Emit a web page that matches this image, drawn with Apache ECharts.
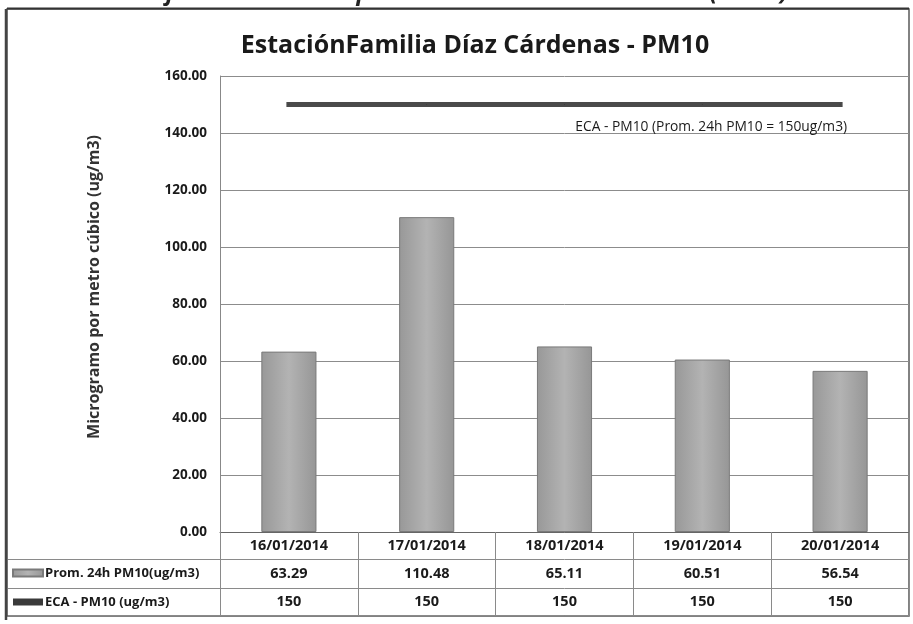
<!DOCTYPE html>
<html>
<head>
<meta charset="utf-8">
<title>PM10</title>
<script src="https://cdn.jsdelivr.net/npm/echarts@6/dist/echarts.min.js"></script>
<style>
  html, body { margin: 0; padding: 0; background: #fff; }
  #chart { width: 913px; height: 624px; }
</style>
</head>
<body>
<div id="chart"></div>
<script>
  // datos
  const fechas = ['16/01/2014', '17/01/2014', '18/01/2014', '19/01/2014', '20/01/2014'];
  const promPM10 = [63.29, 110.48, 65.11, 60.51, 56.54];
  const ecaPM10 = [150, 150, 150, 150, 150];
  const yTicks = [0, 20, 40, 60, 80, 100, 120, 140, 160];

  const nombreBarra = 'Prom. 24h PM10(ug/m3)';
  const nombreLinea = 'ECA - PM10 (ug/m3)';
  const font = "'Open Sans', 'Noto Sans', sans-serif";

  const chart = echarts.init(document.getElementById('chart'));

  // lineas horizontales de la tabla de datos (ejes vacios con offset)
  const filaEje = (off) => ({
    type: 'category',
    data: fechas,
    position: 'bottom',
    offset: off,
    axisLine: { show: true, lineStyle: { color: '#8a8a8a', width: 1 } },
    axisTick: { show: false },
    axisLabel: { show: false },
    splitLine: { show: false }
  });

  const option = {
    backgroundColor: '#fff',
    animation: false,
    title: {
      text: 'EstaciónFamilia Díaz Cárdenas - PM10',
      left: 470,
      textAlign: 'center',
      top: 28,
      textStyle: { fontFamily: font, fontWeight: 'bold', fontSize: 25, color: '#1a1a1a' }
    },
    legend: {
      orient: 'vertical',
      left: 12,
      top: 565,
      padding: 0,
      itemGap: 13,
      itemWidth: 30,
      itemHeight: 7,
      selectedMode: false,
      textStyle: { fontFamily: font, fontWeight: 'bold', fontSize: 13, color: '#1a1a1a', lineHeight: 16, padding: [0, 0, 0, -3] },
      data: [
        { name: nombreBarra, icon: 'rect' },
        { name: nombreLinea, icon: 'rect', itemStyle: { color: '#3a3a3a' } }
      ]
    },
    grid: { left: 220, right: 4, top: 76, bottom: 92 },
    xAxis: [
      {
        type: 'category',
        data: fechas,
        axisLine: { lineStyle: { color: '#666', width: 1 } },
        axisTick: { show: true, interval: 0, length: 83, alignWithLabel: false, lineStyle: { color: '#8a8a8a' } },
        axisLabel: {
          interval: 0,
          margin: 0,
          formatter: (v, i) => '{d|' + v + '}\n{v|' + promPM10[i].toFixed(2) + '}\n{v|' + ecaPM10[i] + '}',
          rich: {
            d: { fontFamily: font, fontWeight: 'bold', fontSize: 14.5, color: '#1a1a1a', lineHeight: 27.5 },
            v: { fontFamily: font, fontWeight: 'bold', fontSize: 14.5, color: '#1a1a1a', lineHeight: 28 }
          }
        }
      },
      filaEje(27),
      filaEje(56),
      filaEje(83)
    ],
    yAxis: {
      type: 'value',
      min: yTicks[0],
      max: yTicks[yTicks.length - 1],
      interval: 20,
      name: 'Microgramo por metro cúbico (ug/m3)',
      nameLocation: 'middle',
      nameGap: 118,
      nameTextStyle: { fontFamily: font, fontWeight: 'bold', fontSize: 16, color: '#333', padding: [0, 0, 0, 34] },
      axisLine: { show: true, lineStyle: { color: '#888' } },
      axisTick: { show: false },
      axisLabel: {
        margin: 13,
        fontFamily: font,
        fontWeight: 'bold',
        fontSize: 13.5,
        color: '#1a1a1a',
        formatter: (v) => v.toFixed(2)
      },
      splitLine: { lineStyle: { color: '#8c8c8c', width: 1 } }
    },
    series: [
      {
        name: nombreBarra,
        type: 'bar',
        barWidth: '40%',
        data: promPM10,
        itemStyle: {
          borderColor: '#7a7a7a',
          borderWidth: 1,
          color: new echarts.graphic.LinearGradient(0, 0, 1, 0, [
            { offset: 0, color: '#989898' },
            { offset: 0.5, color: '#b3b3b3' },
            { offset: 1, color: '#969696' }
          ])
        }
      },
      {
        name: nombreLinea,
        type: 'line',
        data: ecaPM10.map((v, i) => i === ecaPM10.length - 1 ? {
          value: v,
          label: {
            show: true,
            position: 'bottom',
            align: 'right',
            distance: 15,
            offset: [7, 0],
            formatter: 'ECA - PM10 (Prom. 24h PM10 = 150ug/m3)',
            fontFamily: font,
            fontSize: 13.8,
            color: '#1a1a1a'
          }
        } : v),
        symbol: 'circle',
        symbolSize: 1,
        showSymbol: true,
        lineStyle: { color: '#4a4a4a', width: 5, cap: 'square' },
        itemStyle: { color: '#3a3a3a' },
        z: 5
      }
    ],
    graphic: [
      // titulo del documento, cortado arriba
      {
        type: 'text',
        left: 'center',
        top: -19,
        style: {
          text: 'Gráfico 06: Material particulado menor a 10 micras (PM10)',
          font: "italic bold 24px 'Open Sans', sans-serif",
          fill: '#222'
        }
      },
      // marco exterior
      {
        type: 'rect',
        shape: { x: 7, y: 9, width: 902, height: 607 },
        style: { fill: 'none', stroke: '#5a5a5a', lineWidth: 1.5 },
        silent: true
      },
      { type: 'line', shape: { x1: 6, y1: 9, x2: 6, y2: 620 }, style: { stroke: '#444', lineWidth: 2.5 } },
      { type: 'line', shape: { x1: 7, y1: 8.5, x2: 909, y2: 8.5 }, style: { stroke: '#333', lineWidth: 2 } },
      // celdas de la columna de leyenda
      { type: 'line', shape: { x1: 8, y1: 559.5, x2: 220, y2: 559.5 }, style: { stroke: '#8a8a8a', lineWidth: 1 } },
      { type: 'line', shape: { x1: 8, y1: 588.5, x2: 220, y2: 588.5 }, style: { stroke: '#8a8a8a', lineWidth: 1 } },
      { type: 'line', shape: { x1: 8, y1: 615.5, x2: 220, y2: 615.5 }, style: { stroke: '#8a8a8a', lineWidth: 1 } }
    ]
  };

  chart.setOption(option);
</script>
</body>
</html>
